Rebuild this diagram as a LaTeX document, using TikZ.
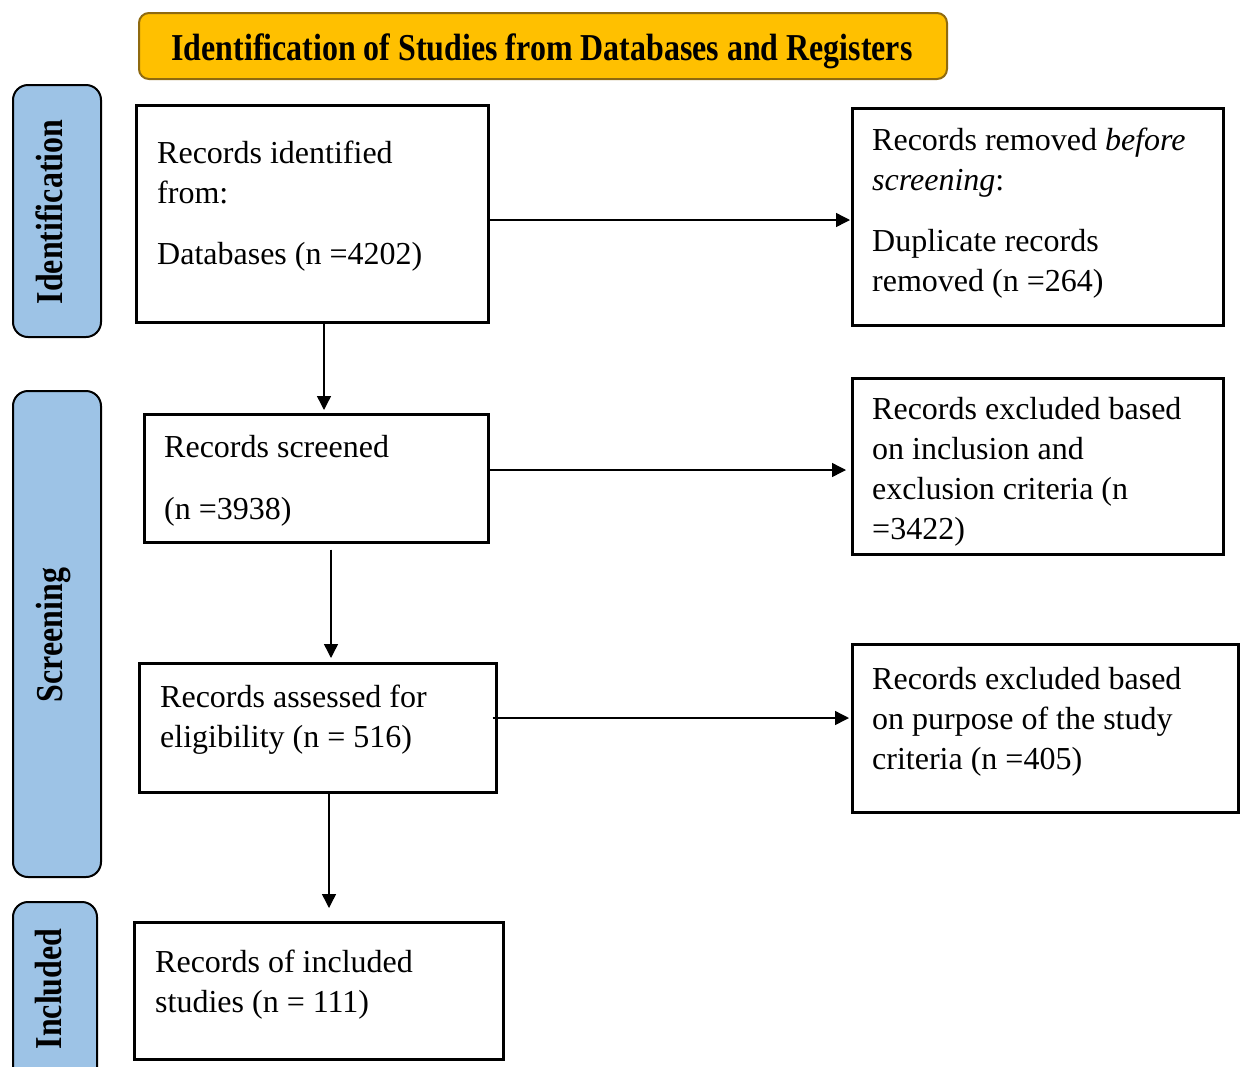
\documentclass[tikz,border=0pt]{standalone}
\usepackage{fontspec}
\setmainfont{Liberation Serif}
\usetikzlibrary{arrows.meta}
\definecolor{headfill}{HTML}{FFC000}
\definecolor{headline}{HTML}{8F6A10}
\definecolor{phasefill}{HTML}{9DC3E6}

\begin{document}
\begin{tikzpicture}[x=1pt,y=-1pt,
  stagebox/.style={draw=black, line width=2.5pt, fill=white, inner sep=0pt, anchor=north west},
  boxtext/.style={anchor=north west, inner sep=0pt, align=left, font=\fontsize{32}{40}\selectfont},
  phase/.style={draw=black, line width=2pt, fill=phasefill, rounded corners=15pt},
  phaselabel/.style={rotate=90, anchor=base, inner sep=0pt, font=\fontsize{38}{40}\selectfont\bfseries},
  arr/.style={line width=1.4pt, -{Triangle[length=14pt,width=14pt]}}
]
\useasboundingbox (0,0) rectangle (1242,1066);
\clip (0,0) rectangle (1242,1066);

% title banner
\node[draw=headline, line width=2pt, fill=headfill, rounded corners=10pt,
      minimum width=808pt, minimum height=66pt, anchor=north west] (head) at (138,12) {};
\node[anchor=base, inner sep=0pt, font=\fontsize{38}{40}\selectfont\bfseries] (headtext) at (542,60)
  {\resizebox{741pt}{\height}{Identification of Studies from Databases and Registers}};

% phase bars on the left
\draw[phase] (13,85) rectangle (101,337);
\draw[phase] (13,391) rectangle (101,877);
\draw[phase] (13,902) rectangle (97,1100);
\node[phaselabel] (lid) at (62,212) {\scalebox{0.84}[1]{Identification}};
\node[phaselabel] (lsc) at (62,635) {\scalebox{0.84}[1]{Screening}};
\node[phaselabel] (lin) at (61,989) {\scalebox{0.84}[1]{Included}};

% flow boxes
\node[stagebox, minimum width=352pt, minimum height=217pt] (b1) at (135,104) {};
\node[stagebox, minimum width=371pt, minimum height=217pt] (b2) at (851,107) {};
\node[stagebox, minimum width=344pt, minimum height=128pt] (b3) at (143,413) {};
\node[stagebox, minimum width=371pt, minimum height=176pt] (b4) at (851,377) {};
\node[stagebox, minimum width=357pt, minimum height=129pt] (b5) at (138,662) {};
\node[stagebox, minimum width=386pt, minimum height=168pt] (b6) at (851,643) {};
\node[stagebox, minimum width=369pt, minimum height=137pt] (b7) at (133,921) {};

% box texts
\node[boxtext] (t1) at (157,141) {Records identified\\ from:\\[21pt] Databases (n =4202)};
\node[boxtext] (t2) at (872,128) {Records removed \textit{before}\\ \textit{screening}:\\[21pt] Duplicate records\\ removed (n =264)};
\node[boxtext] (t3) at (164,435) {Records screened\\[22pt] (n =3938)};
\node[boxtext] (t4) at (872,397) {Records excluded based\\ on inclusion and\\ exclusion criteria (n\\ =3422)};
\node[boxtext] (t5) at (160,685) {Records assessed for\\ eligibility (n = 516)};
\node[boxtext] (t6) at (872,667) {Records excluded based\\ on purpose of the study\\ criteria (n =405)};
\node[boxtext] (t7) at (155,950) {Records of included\\ studies (n = 111)};

% connectors
\draw[arr, shorten >=1pt] (b1.east |- 0,220) -- (b2.west |- 0,220);
\draw[arr, shorten >=3pt] (b1.south -| 324,0) -- (b3.north -| 324,0);
\draw[arr, shorten >=5pt] (b3.east |- 0,470) -- (b4.west |- 0,470);
\draw[arr, shorten <=6pt, shorten >=4pt] (b3.south -| 331,0) -- (b5.north -| 331,0);
\draw[arr, shorten <=-5pt, shorten >=2pt] (b5.east |- 0,718) -- (b6.west |- 0,718);
\draw[arr, shorten >=13pt] (b5.south -| 329,0) -- (b7.north -| 329,0);
\end{tikzpicture}
\end{document}
